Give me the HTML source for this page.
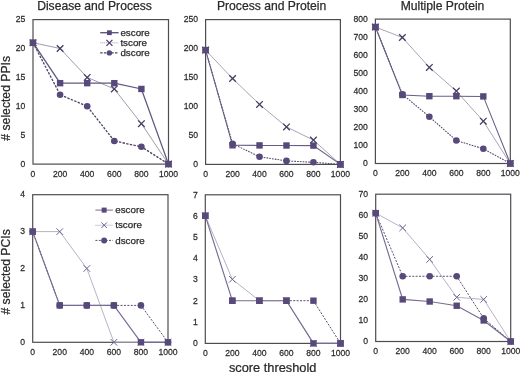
<!DOCTYPE html>
<html><head><meta charset="utf-8"><style>
html,body{margin:0;padding:0;background:#fff;width:520px;height:372px;overflow:hidden}
svg{display:block;filter:blur(0.35px)}
text{font-family:"Liberation Sans", sans-serif;fill:#2b2b2b;stroke:#2b2b2b;stroke-width:0.25px}
.tk{font-size:9.9px}
.ti{font-size:12.15px}
.lg{font-size:9.7px}
.ax{font-size:12.2px}
.ax2{font-size:12.8px}
</style></head><body>
<svg width="520" height="372" viewBox="0 0 520 372">
<rect width="520" height="372" fill="#fff"/>
<text transform="translate(25.4,166.8) scale(0.87,1)" class="tk" text-anchor="end">0</text>
<text transform="translate(25.4,137.9) scale(0.87,1)" class="tk" text-anchor="end">5</text>
<text transform="translate(25.4,109) scale(0.87,1)" class="tk" text-anchor="end">10</text>
<text transform="translate(25.4,80.1) scale(0.87,1)" class="tk" text-anchor="end">15</text>
<text transform="translate(25.4,51.2) scale(0.87,1)" class="tk" text-anchor="end">20</text>
<text transform="translate(25.4,22.3) scale(0.87,1)" class="tk" text-anchor="end">25</text>
<text transform="translate(33,177) scale(0.87,1)" class="tk" text-anchor="middle">0</text>
<text transform="translate(60.1,177) scale(0.87,1)" class="tk" text-anchor="middle">200</text>
<text transform="translate(87.2,177) scale(0.87,1)" class="tk" text-anchor="middle">400</text>
<text transform="translate(114.3,177) scale(0.87,1)" class="tk" text-anchor="middle">600</text>
<text transform="translate(141.4,177) scale(0.87,1)" class="tk" text-anchor="middle">800</text>
<text transform="translate(168.5,177) scale(0.87,1)" class="tk" text-anchor="middle">1000</text>
<rect x="33" y="19.6" width="135.5" height="144.5" fill="none" stroke="#4e4c50" stroke-width="1.2"/>
<text x="94.5" y="9.5" class="ti" text-anchor="middle">Disease and Process</text>
<polyline points="33,42.72 60.1,48.5 87.2,77.4 114.3,88.96 141.4,123.64 168.5,164.1" fill="none" stroke="#9690a6" stroke-width="0.9"/>
<polyline points="33,42.72 60.1,94.74 87.2,106.3 114.3,140.98 141.4,146.76 168.5,164.1" fill="none" stroke="#4c4262" stroke-width="1.3" stroke-dasharray="2.4,1.3"/>
<polyline points="33,42.72 60.1,83.18 87.2,83.18 114.3,83.18 141.4,88.96 168.5,164.1" fill="none" stroke="#62577f" stroke-width="1.3"/>
<circle cx="33" cy="42.72" r="3.3" fill="#574a7a"/>
<circle cx="60.1" cy="94.74" r="3.3" fill="#574a7a"/>
<circle cx="87.2" cy="106.3" r="3.3" fill="#574a7a"/>
<circle cx="114.3" cy="140.98" r="3.3" fill="#574a7a"/>
<circle cx="141.4" cy="146.76" r="3.3" fill="#574a7a"/>
<circle cx="168.5" cy="164.1" r="3.3" fill="#574a7a"/>
<path d="M29.7,39.42L36.3,46.02M29.7,46.02L36.3,39.42" stroke="#463c60" stroke-width="1.3" fill="none"/>
<path d="M56.8,45.2L63.4,51.8M56.8,51.8L63.4,45.2" stroke="#463c60" stroke-width="1.3" fill="none"/>
<path d="M83.9,74.1L90.5,80.7M83.9,80.7L90.5,74.1" stroke="#463c60" stroke-width="1.3" fill="none"/>
<path d="M111,85.66L117.6,92.26M111,92.26L117.6,85.66" stroke="#463c60" stroke-width="1.3" fill="none"/>
<path d="M138.1,120.34L144.7,126.94M138.1,126.94L144.7,120.34" stroke="#463c60" stroke-width="1.3" fill="none"/>
<path d="M165.2,160.8L171.8,167.4M165.2,167.4L171.8,160.8" stroke="#463c60" stroke-width="1.3" fill="none"/>
<rect x="29.8" y="39.52" width="6.4" height="6.4" fill="#574a7a"/>
<rect x="56.9" y="79.98" width="6.4" height="6.4" fill="#574a7a"/>
<rect x="84" y="79.98" width="6.4" height="6.4" fill="#574a7a"/>
<rect x="111.1" y="79.98" width="6.4" height="6.4" fill="#574a7a"/>
<rect x="138.2" y="85.76" width="6.4" height="6.4" fill="#574a7a"/>
<rect x="165.3" y="160.9" width="6.4" height="6.4" fill="#574a7a"/>
<line x1="100.2" y1="32.7" x2="118.6" y2="32.7" stroke="#62577f" stroke-width="1.4"/>
<rect x="107" y="30.3" width="4.8" height="4.8" fill="#574a7a"/>
<text x="120.4" y="35.8" class="lg" style="font-size:9.8px">escore</text>
<line x1="100.2" y1="42.8" x2="118.6" y2="42.8" stroke="#b4a8cc" stroke-width="1" stroke-dasharray="1.2,0.8"/>
<path d="M106.4,39.8L112.4,45.8M106.4,45.8L112.4,39.8" stroke="#463a66" stroke-width="1.2" fill="none"/>
<text x="120.4" y="45.9" class="lg" style="font-size:9.8px">tscore</text>
<line x1="100.2" y1="52.9" x2="118.6" y2="52.9" stroke="#4c4262" stroke-width="1.3" stroke-dasharray="2.4,1.3"/>
<circle cx="109.4" cy="52.9" r="2.7" fill="#574a7a"/>
<text x="120.4" y="56" class="lg" style="font-size:9.8px">dscore</text>
<text transform="translate(198,167.1) scale(0.87,1)" class="tk" text-anchor="end">0</text>
<text transform="translate(198,138.14) scale(0.87,1)" class="tk" text-anchor="end">50</text>
<text transform="translate(198,109.18) scale(0.87,1)" class="tk" text-anchor="end">100</text>
<text transform="translate(198,80.22) scale(0.87,1)" class="tk" text-anchor="end">150</text>
<text transform="translate(198,51.26) scale(0.87,1)" class="tk" text-anchor="end">200</text>
<text transform="translate(198,22.3) scale(0.87,1)" class="tk" text-anchor="end">250</text>
<text transform="translate(205.6,177.3) scale(0.87,1)" class="tk" text-anchor="middle">0</text>
<text transform="translate(232.56,177.3) scale(0.87,1)" class="tk" text-anchor="middle">200</text>
<text transform="translate(259.52,177.3) scale(0.87,1)" class="tk" text-anchor="middle">400</text>
<text transform="translate(286.48,177.3) scale(0.87,1)" class="tk" text-anchor="middle">600</text>
<text transform="translate(313.44,177.3) scale(0.87,1)" class="tk" text-anchor="middle">800</text>
<text transform="translate(340.4,177.3) scale(0.87,1)" class="tk" text-anchor="middle">1000</text>
<rect x="205.6" y="19.6" width="134.8" height="144.8" fill="none" stroke="#4e4c50" stroke-width="1.2"/>
<text x="271.6" y="9.5" class="ti" text-anchor="middle">Process and Protein</text>
<polyline points="205.6,50.1 232.56,78.5 259.52,104.4 286.48,126.9 313.44,140.1 340.4,164.4" fill="none" stroke="#9a94aa" stroke-width="0.85"/>
<polyline points="205.6,50.1 232.56,143.7 259.52,156.8 286.48,160.9 313.44,162.3 340.4,164.4" fill="none" stroke="#51476a" stroke-width="1.05" stroke-dasharray="1.7,1.1"/>
<polyline points="205.6,50.1 232.56,145.3 259.52,145.4 286.48,145.5 313.44,145.6 340.4,164.4" fill="none" stroke="#675d86" stroke-width="1.05"/>
<circle cx="205.6" cy="50.1" r="3.3" fill="#574a7a"/>
<circle cx="232.56" cy="143.7" r="3.3" fill="#574a7a"/>
<circle cx="259.52" cy="156.8" r="3.3" fill="#574a7a"/>
<circle cx="286.48" cy="160.9" r="3.3" fill="#574a7a"/>
<circle cx="313.44" cy="162.3" r="3.3" fill="#574a7a"/>
<circle cx="340.4" cy="164.4" r="3.3" fill="#574a7a"/>
<path d="M202.3,46.8L208.9,53.4M202.3,53.4L208.9,46.8" stroke="#463c60" stroke-width="1.3" fill="none"/>
<path d="M229.26,75.2L235.86,81.8M229.26,81.8L235.86,75.2" stroke="#463c60" stroke-width="1.3" fill="none"/>
<path d="M256.22,101.1L262.82,107.7M256.22,107.7L262.82,101.1" stroke="#463c60" stroke-width="1.3" fill="none"/>
<path d="M283.18,123.6L289.78,130.2M283.18,130.2L289.78,123.6" stroke="#463c60" stroke-width="1.3" fill="none"/>
<path d="M310.14,136.8L316.74,143.4M310.14,143.4L316.74,136.8" stroke="#463c60" stroke-width="1.3" fill="none"/>
<path d="M337.1,161.1L343.7,167.7M337.1,167.7L343.7,161.1" stroke="#463c60" stroke-width="1.3" fill="none"/>
<rect x="202.4" y="46.9" width="6.4" height="6.4" fill="#574a7a"/>
<rect x="229.36" y="142.1" width="6.4" height="6.4" fill="#574a7a"/>
<rect x="256.32" y="142.2" width="6.4" height="6.4" fill="#574a7a"/>
<rect x="283.28" y="142.3" width="6.4" height="6.4" fill="#574a7a"/>
<rect x="310.24" y="142.4" width="6.4" height="6.4" fill="#574a7a"/>
<rect x="337.2" y="161.2" width="6.4" height="6.4" fill="#574a7a"/>
<text transform="translate(367.8,166.2) scale(0.87,1)" class="tk" text-anchor="end">0</text>
<text transform="translate(367.8,148.15) scale(0.87,1)" class="tk" text-anchor="end">100</text>
<text transform="translate(367.8,130.1) scale(0.87,1)" class="tk" text-anchor="end">200</text>
<text transform="translate(367.8,112.05) scale(0.87,1)" class="tk" text-anchor="end">300</text>
<text transform="translate(367.8,94) scale(0.87,1)" class="tk" text-anchor="end">400</text>
<text transform="translate(367.8,75.95) scale(0.87,1)" class="tk" text-anchor="end">500</text>
<text transform="translate(367.8,57.9) scale(0.87,1)" class="tk" text-anchor="end">600</text>
<text transform="translate(367.8,39.85) scale(0.87,1)" class="tk" text-anchor="end">700</text>
<text transform="translate(367.8,21.8) scale(0.87,1)" class="tk" text-anchor="end">800</text>
<text transform="translate(375.4,176.4) scale(0.87,1)" class="tk" text-anchor="middle">0</text>
<text transform="translate(402.38,176.4) scale(0.87,1)" class="tk" text-anchor="middle">200</text>
<text transform="translate(429.36,176.4) scale(0.87,1)" class="tk" text-anchor="middle">400</text>
<text transform="translate(456.34,176.4) scale(0.87,1)" class="tk" text-anchor="middle">600</text>
<text transform="translate(483.32,176.4) scale(0.87,1)" class="tk" text-anchor="middle">800</text>
<text transform="translate(510.3,176.4) scale(0.87,1)" class="tk" text-anchor="middle">1000</text>
<rect x="375.4" y="19.1" width="134.9" height="144.4" fill="none" stroke="#4e4c50" stroke-width="1.2"/>
<text x="442.5" y="9.5" class="ti" text-anchor="middle">Multiple Protein</text>
<polyline points="375.4,27 402.38,37.5 429.36,67.4 456.34,91.1 483.32,121.2 510.3,163.5" fill="none" stroke="#9a94aa" stroke-width="0.85"/>
<polyline points="375.4,27 402.38,94.2 429.36,116.8 456.34,140.5 483.32,148.8 510.3,163.5" fill="none" stroke="#51476a" stroke-width="1.05" stroke-dasharray="1.7,1.1"/>
<polyline points="375.4,27 402.38,95 429.36,96.2 456.34,96.2 483.32,96.4 510.3,163.5" fill="none" stroke="#675d86" stroke-width="1.05"/>
<circle cx="375.4" cy="27" r="3.3" fill="#574a7a"/>
<circle cx="402.38" cy="94.2" r="3.3" fill="#574a7a"/>
<circle cx="429.36" cy="116.8" r="3.3" fill="#574a7a"/>
<circle cx="456.34" cy="140.5" r="3.3" fill="#574a7a"/>
<circle cx="483.32" cy="148.8" r="3.3" fill="#574a7a"/>
<circle cx="510.3" cy="163.5" r="3.3" fill="#574a7a"/>
<path d="M372.1,23.7L378.7,30.3M372.1,30.3L378.7,23.7" stroke="#463c60" stroke-width="1.3" fill="none"/>
<path d="M399.08,34.2L405.68,40.8M399.08,40.8L405.68,34.2" stroke="#463c60" stroke-width="1.3" fill="none"/>
<path d="M426.06,64.1L432.66,70.7M426.06,70.7L432.66,64.1" stroke="#463c60" stroke-width="1.3" fill="none"/>
<path d="M453.04,87.8L459.64,94.4M453.04,94.4L459.64,87.8" stroke="#463c60" stroke-width="1.3" fill="none"/>
<path d="M480.02,117.9L486.62,124.5M480.02,124.5L486.62,117.9" stroke="#463c60" stroke-width="1.3" fill="none"/>
<path d="M507,160.2L513.6,166.8M507,166.8L513.6,160.2" stroke="#463c60" stroke-width="1.3" fill="none"/>
<rect x="372.2" y="23.8" width="6.4" height="6.4" fill="#574a7a"/>
<rect x="399.18" y="91.8" width="6.4" height="6.4" fill="#574a7a"/>
<rect x="426.16" y="93" width="6.4" height="6.4" fill="#574a7a"/>
<rect x="453.14" y="93" width="6.4" height="6.4" fill="#574a7a"/>
<rect x="480.12" y="93.2" width="6.4" height="6.4" fill="#574a7a"/>
<rect x="507.1" y="160.3" width="6.4" height="6.4" fill="#574a7a"/>
<text transform="translate(25.1,345) scale(0.87,1)" class="tk" text-anchor="end">0</text>
<text transform="translate(25.1,308.1) scale(0.87,1)" class="tk" text-anchor="end">1</text>
<text transform="translate(25.1,271.2) scale(0.87,1)" class="tk" text-anchor="end">2</text>
<text transform="translate(25.1,234.3) scale(0.87,1)" class="tk" text-anchor="end">3</text>
<text transform="translate(25.1,197.4) scale(0.87,1)" class="tk" text-anchor="end">4</text>
<text transform="translate(32.7,355.2) scale(0.87,1)" class="tk" text-anchor="middle">0</text>
<text transform="translate(59.76,355.2) scale(0.87,1)" class="tk" text-anchor="middle">200</text>
<text transform="translate(86.82,355.2) scale(0.87,1)" class="tk" text-anchor="middle">400</text>
<text transform="translate(113.88,355.2) scale(0.87,1)" class="tk" text-anchor="middle">600</text>
<text transform="translate(140.94,355.2) scale(0.87,1)" class="tk" text-anchor="middle">800</text>
<text transform="translate(168,355.2) scale(0.87,1)" class="tk" text-anchor="middle">1000</text>
<rect x="32.7" y="194.7" width="135.3" height="147.6" fill="none" stroke="#4e4c50" stroke-width="1.2"/>
<polyline points="32.7,231.6 59.76,231.6 86.82,268.5 113.88,342.3 140.94,342.3 168,342.3" fill="none" stroke="#aaa4bb" stroke-width="0.85"/>
<polyline points="32.7,231.6 59.76,305.4 86.82,305.4 113.88,305.4 140.94,305.4 168,342.3" fill="none" stroke="#584e72" stroke-width="1.0" stroke-dasharray="2,1.4"/>
<polyline points="32.7,231.6 59.76,305.4 86.82,305.4 113.88,305.4 140.94,342.3 168,342.3" fill="none" stroke="#766c94" stroke-width="1.15"/>
<circle cx="32.7" cy="231.6" r="3.3" fill="#574a7a"/>
<circle cx="59.76" cy="305.4" r="3.3" fill="#574a7a"/>
<circle cx="86.82" cy="305.4" r="3.3" fill="#574a7a"/>
<circle cx="113.88" cy="305.4" r="3.3" fill="#574a7a"/>
<circle cx="140.94" cy="305.4" r="3.3" fill="#574a7a"/>
<circle cx="168" cy="342.3" r="3.3" fill="#574a7a"/>
<path d="M29.4,228.3L36,234.9M29.4,234.9L36,228.3" stroke="#6e6490" stroke-width="1.0" fill="none"/>
<path d="M56.46,228.3L63.06,234.9M56.46,234.9L63.06,228.3" stroke="#6e6490" stroke-width="1.0" fill="none"/>
<path d="M83.52,265.2L90.12,271.8M83.52,271.8L90.12,265.2" stroke="#6e6490" stroke-width="1.0" fill="none"/>
<path d="M110.58,339L117.18,345.6M110.58,345.6L117.18,339" stroke="#6e6490" stroke-width="1.0" fill="none"/>
<path d="M137.64,339L144.24,345.6M137.64,345.6L144.24,339" stroke="#6e6490" stroke-width="1.0" fill="none"/>
<path d="M164.7,339L171.3,345.6M164.7,345.6L171.3,339" stroke="#6e6490" stroke-width="1.0" fill="none"/>
<rect x="29.5" y="228.4" width="6.4" height="6.4" fill="#574a7a"/>
<rect x="56.56" y="302.2" width="6.4" height="6.4" fill="#574a7a"/>
<rect x="83.62" y="302.2" width="6.4" height="6.4" fill="#574a7a"/>
<rect x="110.68" y="302.2" width="6.4" height="6.4" fill="#574a7a"/>
<rect x="137.74" y="339.1" width="6.4" height="6.4" fill="#574a7a"/>
<rect x="164.8" y="339.1" width="6.4" height="6.4" fill="#574a7a"/>
<line x1="95.4" y1="210.1" x2="112.9" y2="210.1" stroke="#766c94" stroke-width="1.0"/>
<rect x="101.65" y="207.6" width="5" height="5" fill="#574a7a"/>
<text x="115.2" y="213.2" class="lg" style="font-size:9.8px">escore</text>
<line x1="95.4" y1="225.25" x2="112.9" y2="225.25" stroke="#b4a8cc" stroke-width="1" stroke-dasharray="1.2,0.8"/>
<path d="M101.35,222.45L106.95,228.05M101.35,228.05L106.95,222.45" stroke="#6c6090" stroke-width="1.0" fill="none"/>
<text x="115.2" y="228.35" class="lg" style="font-size:9.8px">tscore</text>
<line x1="95.4" y1="240.4" x2="112.9" y2="240.4" stroke="#584e72" stroke-width="1.0" stroke-dasharray="2,1.4"/>
<circle cx="104.15" cy="240.4" r="3" fill="#574a7a"/>
<text x="115.2" y="243.5" class="lg" style="font-size:9.8px">dscore</text>
<text transform="translate(197.7,346.1) scale(0.87,1)" class="tk" text-anchor="end">0</text>
<text transform="translate(197.7,324.87) scale(0.87,1)" class="tk" text-anchor="end">1</text>
<text transform="translate(197.7,303.64) scale(0.87,1)" class="tk" text-anchor="end">2</text>
<text transform="translate(197.7,282.41) scale(0.87,1)" class="tk" text-anchor="end">3</text>
<text transform="translate(197.7,261.19) scale(0.87,1)" class="tk" text-anchor="end">4</text>
<text transform="translate(197.7,239.96) scale(0.87,1)" class="tk" text-anchor="end">5</text>
<text transform="translate(197.7,218.73) scale(0.87,1)" class="tk" text-anchor="end">6</text>
<text transform="translate(197.7,197.5) scale(0.87,1)" class="tk" text-anchor="end">7</text>
<text transform="translate(205.3,356.3) scale(0.87,1)" class="tk" text-anchor="middle">0</text>
<text transform="translate(232.34,356.3) scale(0.87,1)" class="tk" text-anchor="middle">200</text>
<text transform="translate(259.38,356.3) scale(0.87,1)" class="tk" text-anchor="middle">400</text>
<text transform="translate(286.42,356.3) scale(0.87,1)" class="tk" text-anchor="middle">600</text>
<text transform="translate(313.46,356.3) scale(0.87,1)" class="tk" text-anchor="middle">800</text>
<text transform="translate(340.5,356.3) scale(0.87,1)" class="tk" text-anchor="middle">1000</text>
<rect x="205.3" y="194.8" width="135.2" height="148.6" fill="none" stroke="#4e4c50" stroke-width="1.2"/>
<polyline points="205.3,215.8 232.34,279.3 259.38,300.7 286.42,300.7 313.46,343.4 340.5,343.4" fill="none" stroke="#aaa4bb" stroke-width="0.85"/>
<polyline points="286.42,300.7 313.46,300.7 340.5,343.4" fill="none" stroke="#584e72" stroke-width="1.0" stroke-dasharray="2,1.4"/>
<polyline points="205.3,215.8 232.34,300.7 259.38,300.7 286.42,300.7 313.46,343.4 340.5,343.4" fill="none" stroke="#766c94" stroke-width="1.15"/>
<rect x="202.1" y="212.6" width="6.4" height="6.4" fill="#574a7a"/>
<rect x="229.14" y="297.5" width="6.4" height="6.4" fill="#574a7a"/>
<rect x="256.18" y="297.5" width="6.4" height="6.4" fill="#574a7a"/>
<rect x="283.22" y="297.5" width="6.4" height="6.4" fill="#574a7a"/>
<rect x="310.26" y="297.5" width="6.4" height="6.4" fill="#574a7a"/>
<rect x="337.3" y="340.2" width="6.4" height="6.4" fill="#574a7a"/>
<path d="M202,212.5L208.6,219.1M202,219.1L208.6,212.5" stroke="#6e6490" stroke-width="1.0" fill="none"/>
<path d="M229.04,276L235.64,282.6M229.04,282.6L235.64,276" stroke="#6e6490" stroke-width="1.0" fill="none"/>
<path d="M256.08,297.4L262.68,304M256.08,304L262.68,297.4" stroke="#6e6490" stroke-width="1.0" fill="none"/>
<path d="M283.12,297.4L289.72,304M283.12,304L289.72,297.4" stroke="#6e6490" stroke-width="1.0" fill="none"/>
<path d="M310.16,340.1L316.76,346.7M310.16,346.7L316.76,340.1" stroke="#6e6490" stroke-width="1.0" fill="none"/>
<path d="M337.2,340.1L343.8,346.7M337.2,346.7L343.8,340.1" stroke="#6e6490" stroke-width="1.0" fill="none"/>
<rect x="202.1" y="212.6" width="6.4" height="6.4" fill="#574a7a"/>
<rect x="229.14" y="297.5" width="6.4" height="6.4" fill="#574a7a"/>
<rect x="256.18" y="297.5" width="6.4" height="6.4" fill="#574a7a"/>
<rect x="283.22" y="297.5" width="6.4" height="6.4" fill="#574a7a"/>
<rect x="310.26" y="340.2" width="6.4" height="6.4" fill="#574a7a"/>
<rect x="337.3" y="340.2" width="6.4" height="6.4" fill="#574a7a"/>
<text transform="translate(368.1,344.2) scale(0.87,1)" class="tk" text-anchor="end">0</text>
<text transform="translate(368.1,323.16) scale(0.87,1)" class="tk" text-anchor="end">10</text>
<text transform="translate(368.1,302.11) scale(0.87,1)" class="tk" text-anchor="end">20</text>
<text transform="translate(368.1,281.07) scale(0.87,1)" class="tk" text-anchor="end">30</text>
<text transform="translate(368.1,260.03) scale(0.87,1)" class="tk" text-anchor="end">40</text>
<text transform="translate(368.1,238.99) scale(0.87,1)" class="tk" text-anchor="end">50</text>
<text transform="translate(368.1,217.94) scale(0.87,1)" class="tk" text-anchor="end">60</text>
<text transform="translate(368.1,196.9) scale(0.87,1)" class="tk" text-anchor="end">70</text>
<text transform="translate(375.7,354.4) scale(0.87,1)" class="tk" text-anchor="middle">0</text>
<text transform="translate(402.7,354.4) scale(0.87,1)" class="tk" text-anchor="middle">200</text>
<text transform="translate(429.7,354.4) scale(0.87,1)" class="tk" text-anchor="middle">400</text>
<text transform="translate(456.7,354.4) scale(0.87,1)" class="tk" text-anchor="middle">600</text>
<text transform="translate(483.7,354.4) scale(0.87,1)" class="tk" text-anchor="middle">800</text>
<text transform="translate(510.7,354.4) scale(0.87,1)" class="tk" text-anchor="middle">1000</text>
<rect x="375.7" y="194.2" width="135" height="147.3" fill="none" stroke="#4e4c50" stroke-width="1.2"/>
<polyline points="375.7,213.14 402.7,227.87 429.7,259.43 456.7,297.31 483.7,299.41 510.7,341.5" fill="none" stroke="#aaa4bb" stroke-width="0.85"/>
<polyline points="375.7,213.14 402.7,276.27 429.7,276.27 456.7,276.27 483.7,318.35 510.7,341.5" fill="none" stroke="#584e72" stroke-width="1.0" stroke-dasharray="2,1.4"/>
<polyline points="375.7,213.14 402.7,299.41 429.7,301.52 456.7,305.73 483.7,320.46 510.7,341.5" fill="none" stroke="#766c94" stroke-width="1.15"/>
<circle cx="375.7" cy="213.14" r="3.3" fill="#574a7a"/>
<circle cx="402.7" cy="276.27" r="3.3" fill="#574a7a"/>
<circle cx="429.7" cy="276.27" r="3.3" fill="#574a7a"/>
<circle cx="456.7" cy="276.27" r="3.3" fill="#574a7a"/>
<circle cx="483.7" cy="318.35" r="3.3" fill="#574a7a"/>
<circle cx="510.7" cy="341.5" r="3.3" fill="#574a7a"/>
<path d="M372.4,209.84L379,216.44M372.4,216.44L379,209.84" stroke="#6e6490" stroke-width="1.0" fill="none"/>
<path d="M399.4,224.57L406,231.17M399.4,231.17L406,224.57" stroke="#6e6490" stroke-width="1.0" fill="none"/>
<path d="M426.4,256.13L433,262.73M426.4,262.73L433,256.13" stroke="#6e6490" stroke-width="1.0" fill="none"/>
<path d="M453.4,294.01L460,300.61M453.4,300.61L460,294.01" stroke="#6e6490" stroke-width="1.0" fill="none"/>
<path d="M480.4,296.11L487,302.71M480.4,302.71L487,296.11" stroke="#6e6490" stroke-width="1.0" fill="none"/>
<path d="M507.4,338.2L514,344.8M507.4,344.8L514,338.2" stroke="#6e6490" stroke-width="1.0" fill="none"/>
<rect x="372.5" y="209.94" width="6.4" height="6.4" fill="#574a7a"/>
<rect x="399.5" y="296.21" width="6.4" height="6.4" fill="#574a7a"/>
<rect x="426.5" y="298.32" width="6.4" height="6.4" fill="#574a7a"/>
<rect x="453.5" y="302.53" width="6.4" height="6.4" fill="#574a7a"/>
<rect x="480.5" y="317.26" width="6.4" height="6.4" fill="#574a7a"/>
<rect x="507.5" y="338.3" width="6.4" height="6.4" fill="#574a7a"/>
<text transform="translate(9.5,98.3) rotate(-90)" class="ax" text-anchor="middle"># selected PPIs</text>
<text transform="translate(9.5,271.9) rotate(-90)" class="ax" text-anchor="middle"># selected PCIs</text>
<text x="272.7" y="371.8" class="ax2" text-anchor="middle">score threshold</text>
</svg>
</body></html>
